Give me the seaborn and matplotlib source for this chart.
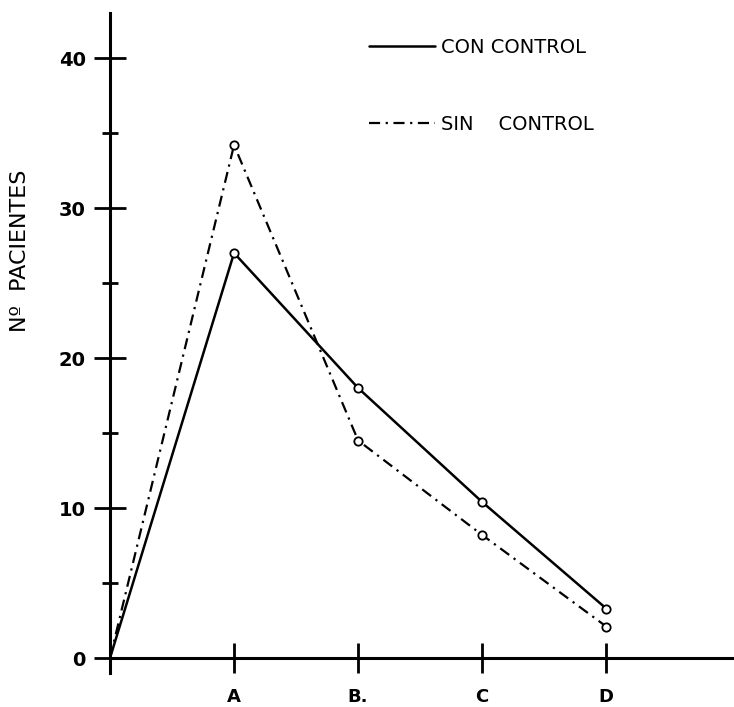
import matplotlib
matplotlib.use("Agg")
import matplotlib.pyplot as plt
import seaborn as sns
from matplotlib.ticker import MultipleLocator

# data (origin + four groups)
categories = ["", "A", "B.", "C", "D"]
con_control = [0, 27.0, 18.0, 10.4, 3.3]
sin_control = [0, 34.2, 14.5, 8.2, 2.1]
y_ticks = [0, 10, 20, 30, 40]

sns.set_style("ticks")
plt.rcParams["font.family"] = ["DejaVu Sans"]
plt.rcParams["text.color"] = "black"
plt.rcParams["xtick.color"] = "black"
plt.rcParams["ytick.color"] = "black"
plt.rcParams["axes.edgecolor"] = "black"
plt.rcParams["axes.labelcolor"] = "black"

fig = plt.figure(figsize=(7.34, 7.07), dpi=100)
ax = fig.add_axes([110 / 734, 34 / 707, 624 / 734, 660 / 707])

xs = list(range(len(categories)))
sns.lineplot(x=xs, y=con_control, ax=ax, color="black", linewidth=1.8,
             linestyle="-", marker="o", markersize=6, markerfacecolor="white",
             markeredgecolor="black", markeredgewidth=1.3, markevery=[1, 2, 3, 4],
             sort=False, label="CON CONTROL")
sns.lineplot(x=xs, y=sin_control, ax=ax, color="black", linewidth=1.6,
             dashes=(5, 2.5, 1, 2.5), marker="o", markersize=6,
             markerfacecolor="white", markeredgecolor="black",
             markeredgewidth=1.3, markevery=[1, 2, 3, 4],
             sort=False, label="SIN    CONTROL")

ax.set_xlim(0, 5.03)
ax.set_ylim(-1, 43)
for s in ["top", "right"]:
    ax.spines[s].set_visible(False)
ax.spines["bottom"].set_position(("data", 0))
ax.spines["left"].set_linewidth(2.2)
ax.spines["bottom"].set_linewidth(2.2)

ax.set_xticks(xs[1:])
ax.set_xticklabels(categories[1:], fontsize=13, fontweight="bold")
ax.set_yticks(y_ticks)
ax.set_yticklabels([str(v) for v in y_ticks], fontsize=14, fontweight="bold")
ax.yaxis.set_minor_locator(MultipleLocator(5))
ax.tick_params(axis="y", which="major", direction="inout", length=23, width=2, pad=6)
ax.tick_params(axis="y", which="minor", direction="inout", length=12, width=2)
ax.tick_params(axis="x", which="major", direction="inout", length=21, width=2, pad=11)

ax.set_xlabel("")
ax.set_ylabel("Nº  PACIENTES", fontsize=16)
ax.yaxis.set_label_coords(-0.128, 0.64)

leg = ax.legend(loc="upper left", bbox_to_anchor=(0.40, 0.977), frameon=False,
                handlelength=3.4, handletextpad=0.3, labelspacing=3.0,
                borderpad=0, prop={"size": 14})
for h in leg.legend_handles:
    h.set_marker("None")

fig.savefig("out.png", dpi=100)
